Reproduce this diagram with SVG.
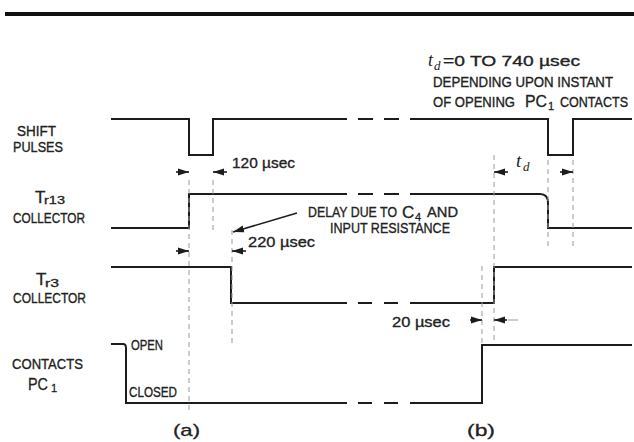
<svg xmlns="http://www.w3.org/2000/svg" width="634" height="442" viewBox="0 0 634 442">
<style>
  .trace{fill:none;stroke:#1c1c1c;stroke-width:2;stroke-linejoin:miter}
  .guide{fill:none;stroke:#9a9a9a;stroke-width:1;stroke-dasharray:5 4}
  .arr{fill:none;stroke:#1c1c1c;stroke-width:1.6}
  .lbl{font-family:"Liberation Sans",Arial,sans-serif;font-size:15px;fill:#222;stroke:#222;stroke-width:0.35}
  .sub{font-family:"Liberation Sans",Arial,sans-serif;font-size:11px;fill:#222;stroke:#222;stroke-width:0.3}
  .big{font-family:"Liberation Sans",Arial,sans-serif;font-size:17px;fill:#222;stroke:#222;stroke-width:0.3}
  .it{font-family:"Liberation Serif","Times New Roman",serif;font-style:italic;fill:#222}
</style>
<defs>
  <marker id="ah" markerUnits="userSpaceOnUse" markerWidth="12" markerHeight="8" refX="11" refY="4" orient="auto">
    <path d="M0,0.5 L11,4 L0,7.5 z" fill="#1c1c1c"/>
  </marker>
</defs>
<rect width="634" height="442" fill="#fff"/>
<line x1="5" y1="14" x2="634" y2="14" stroke="#111" stroke-width="4"/>

<g id="note">
  <text class="it" x="428" y="66" font-size="18">t</text>
  <text class="it" x="434" y="70" font-size="13">d</text>
  <text class="lbl" x="443" y="66" textLength="137" lengthAdjust="spacingAndGlyphs">=0 TO 740 µsec</text>
  <text class="lbl" x="433" y="87" textLength="180" lengthAdjust="spacingAndGlyphs">DEPENDING UPON INSTANT</text>
  <text class="lbl" x="433" y="107" textLength="82" lengthAdjust="spacingAndGlyphs">OF OPENING</text>
  <text class="big" x="525" y="107" textLength="22" lengthAdjust="spacingAndGlyphs">PC</text>
  <text class="sub" x="548" y="110">1</text>
  <text class="lbl" x="560" y="107" textLength="68" lengthAdjust="spacingAndGlyphs">CONTACTS</text>
</g>

<g id="shift-pulses">
  <text class="lbl" x="17" y="136" textLength="39" lengthAdjust="spacingAndGlyphs">SHIFT</text>
  <text class="lbl" x="13" y="152" textLength="50" lengthAdjust="spacingAndGlyphs">PULSES</text>
  <path class="trace" d="M111,119 H189 V155 H213 V119 H347 M358,119 H373 M384,119 H399 M410,119 H548 V155 H573 V119 H632"/>
</g>

<g id="tr13-collector">
  <text class="big" x="35" y="203">T</text>
  <text class="sub" x="44" y="204" textLength="21" lengthAdjust="spacingAndGlyphs">r13</text>
  <text class="lbl" x="13" y="223" textLength="72" lengthAdjust="spacingAndGlyphs">COLLECTOR</text>
  <path class="trace" d="M111,228 H189 V194 H347 M358,194 H373 M384,194 H399 M410,194 H540 Q548,194 548,203 V228 H632"/>
</g>

<g id="tr3-collector">
  <text class="big" x="36" y="285">T</text>
  <text class="sub" x="45" y="287" textLength="14" lengthAdjust="spacingAndGlyphs">r3</text>
  <text class="lbl" x="13" y="303" textLength="73" lengthAdjust="spacingAndGlyphs">COLLECTOR</text>
  <path class="trace" d="M111,267 H231 V303 H347 M358,303 H372 M384,303 H398 M410,303 H494 V267 H632"/>
</g>

<g id="contacts-pc1">
  <text class="lbl" x="12" y="369" textLength="71" lengthAdjust="spacingAndGlyphs">CONTACTS</text>
  <text class="big" x="28" y="390" textLength="20" lengthAdjust="spacingAndGlyphs">PC</text>
  <text class="sub" x="51" y="392">1</text>
  <text class="lbl" x="131" y="350" textLength="32" lengthAdjust="spacingAndGlyphs">OPEN</text>
  <text class="lbl" x="129" y="397" textLength="48" lengthAdjust="spacingAndGlyphs">CLOSED</text>
  <path class="trace" d="M111,344 H123 Q126,344 126,348 V403 H347 M358,403 H372 M384,403 H398 M410,403 H482 V345 H632"/>
</g>

<g id="labels">
  <text class="lbl" x="232" y="168" textLength="63" lengthAdjust="spacingAndGlyphs">120 µsec</text>
  <text class="lbl" x="248" y="247" textLength="67" lengthAdjust="spacingAndGlyphs">220 µsec</text>
  <text class="lbl" x="392" y="327" textLength="58" lengthAdjust="spacingAndGlyphs">20 µsec</text>
  <text class="lbl" x="308" y="217" textLength="89" lengthAdjust="spacingAndGlyphs">DELAY DUE TO</text>
  <text class="big" x="402" y="218" font-size="18">C</text>
  <text class="sub" x="415" y="221">4</text>
  <text class="lbl" x="427" y="217" textLength="31" lengthAdjust="spacingAndGlyphs">AND</text>
  <text class="lbl" x="330" y="233" textLength="120" lengthAdjust="spacingAndGlyphs">INPUT RESISTANCE</text>
  <text class="it" x="516" y="167" font-size="19">t</text>
  <text class="it" x="523" y="171" font-size="13">d</text>
  <text class="big" x="173" y="436" textLength="27" lengthAdjust="spacingAndGlyphs">(a)</text>
  <text class="big" x="467" y="436" textLength="28" lengthAdjust="spacingAndGlyphs">(b)</text>
</g>

<g id="connectors">
  <line class="guide" x1="189" y1="180" x2="189" y2="412"/>
  <line class="guide" x1="213" y1="180" x2="213" y2="230"/>
  <line class="guide" x1="232" y1="230" x2="232" y2="345"/>
  <line class="guide" x1="482" y1="266" x2="482" y2="343"/>
  <line class="guide" x1="494" y1="155" x2="494" y2="343"/>
  <line class="guide" x1="548" y1="160" x2="548" y2="250"/>
  <line class="guide" x1="573" y1="160" x2="573" y2="250"/>
  <line class="arr" x1="176" y1="172" x2="189" y2="172" marker-end="url(#ah)"/>
  <line class="arr" x1="227" y1="172" x2="213" y2="172" marker-end="url(#ah)"/>
  <line class="arr" x1="176" y1="251" x2="189" y2="251" marker-end="url(#ah)"/>
  <line class="arr" x1="246" y1="251" x2="232" y2="251" marker-end="url(#ah)"/>
  <line class="arr" x1="508" y1="172" x2="494" y2="172" marker-end="url(#ah)"/>
  <line class="arr" x1="560" y1="172" x2="573" y2="172" marker-end="url(#ah)"/>
  <line class="arr" x1="470" y1="320" x2="482" y2="320" marker-end="url(#ah)"/>
  <line class="arr" x1="507" y1="320" x2="494" y2="320" marker-end="url(#ah)"/>
  <line x1="508" y1="320" x2="518" y2="320" stroke="#9a9a9a" stroke-width="1"/>
  <line class="arr" x1="297" y1="213" x2="233" y2="232" marker-end="url(#ah)"/>
</g>
</svg>
